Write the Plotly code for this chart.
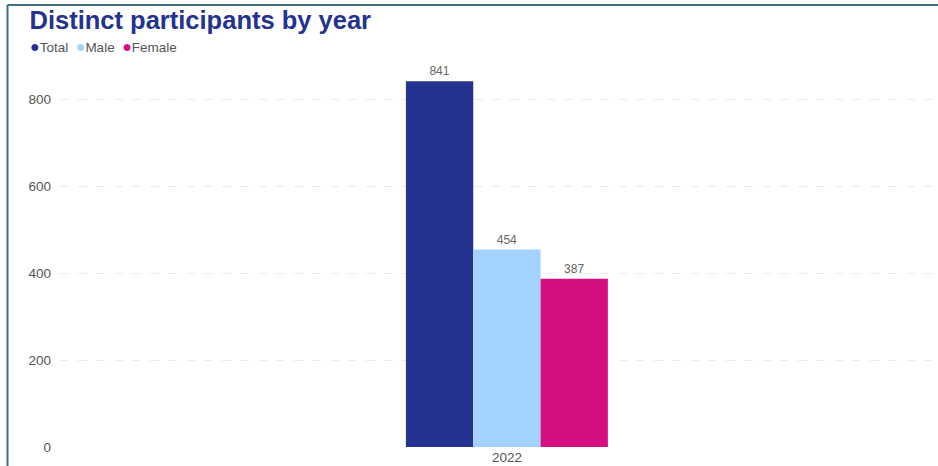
import plotly.graph_objects as go

years = ["2022"]
series_names = ["Total", "Male", "Female"]
total_vals = [841]
male_vals = [454]
female_vals = [387]
colors = ["#24338F", "#A4D2FE", "#D50E81"]
y_ticks = [0, 200, 400, 600, 800]

W, H = 938, 466
ml, mr, mt, mb = 60, 0, 60, 19
pw = W - ml - mr
ph = H - mt - mb

fig = go.Figure()
for name, vals, col in zip(series_names, [total_vals, male_vals, female_vals], colors):
    fig.add_trace(go.Bar(
        x=years, y=vals, name=name, marker_color=col, marker_line_width=0,
        text=[str(v) for v in vals], textposition="outside",
        textfont=dict(size=12, color="#666666", family="Liberation Sans, Arial"),
        cliponaxis=False, showlegend=False,
    ))

# compact legend as text with coloured dots
legend_parts = []
for name, col in zip(series_names, colors):
    legend_parts.append(
        f"<span style='color:{col};font-size:16px'>●</span>{name}"
    )
legend_text = "&nbsp;&nbsp;".join(legend_parts)
fig.add_annotation(
    text=legend_text, xref="paper", yref="paper",
    x=-(ml - 28) / pw, y=1 + (mt - 46) / ph, xanchor="left", yanchor="middle",
    showarrow=False, font=dict(size=13.5, color="#555555", family="Liberation Sans, Arial"),
)

# border lines (top and left) in paper coords
bx = -(ml - 7.5) / pw
by = 1 + (mt - 5) / ph
fig.add_shape(type="line", xref="paper", yref="paper", x0=bx, x1=1.01, y0=by, y1=by,
              line=dict(color="#3E6E7F", width=2))
fig.add_shape(type="line", xref="paper", yref="paper", x0=bx, x1=bx, y0=by, y1=-(mb + 5) / ph,
              line=dict(color="#3E6E7F", width=2))

fig.update_layout(
    width=W, height=H,
    margin=dict(l=ml, r=mr, t=mt, b=mb),
    paper_bgcolor="white", plot_bgcolor="white",
    barmode="group", bargap=0.77, bargroupgap=0,
    showlegend=False,
    font=dict(family="Liberation Sans, Arial", color="#666666"),
    title=dict(text="<b>Distinct participants by year</b>", x=29.5 / W, xanchor="left",
               y=1 - 20 / H, yanchor="middle",
               font=dict(size=25.5, color="#24338F", family="Liberation Sans, Arial")),
    xaxis=dict(type="category", range=[-0.509, 0.491], showgrid=False, showline=False,
               ticks="", tickfont=dict(size=13.5, color="#555555"), fixedrange=True),
    yaxis=dict(range=[0, 890], tickvals=y_ticks, showgrid=True, gridcolor="#EBEBEB",
               griddash="dash", gridwidth=1, zeroline=False, showline=False,
               tickfont=dict(size=13.5, color="#555555"), ticks="", ticklabelstandoff=8),
)

fig.write_html("out.html", post_script="document.body.style.margin='0';",
               config={"displayModeBar": False})
